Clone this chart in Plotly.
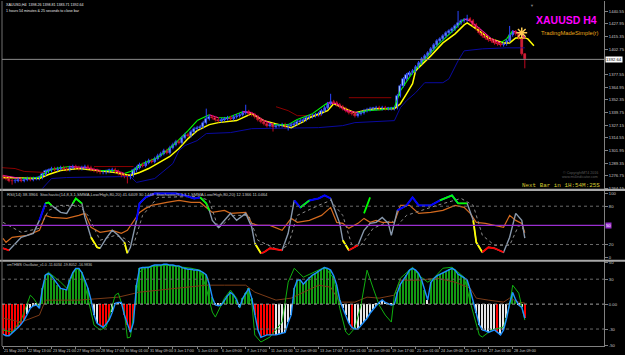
import plotly.graph_objects as go

# ---------------- price data (H4 bars, XAUUSD) ----------------
CLOSE = [
    1275.1, 1274.1, 1272.1, 1271.2, 1272.1, 1273.1, 1272.1, 1273.1, 1274.1, 1273.1,
    1274.1, 1274.1, 1275.1, 1278.1, 1281.1, 1282.1, 1284.0, 1283.0, 1284.0, 1285.0,
    1284.0, 1283.0, 1285.0, 1286.0, 1285.0, 1284.0, 1285.0, 1286.0, 1285.0, 1283.0,
    1282.1, 1281.1, 1280.1, 1280.1, 1281.1, 1282.1, 1283.0, 1281.1, 1279.1, 1277.1,
    1276.1, 1275.1, 1277.1, 1282.1, 1285.0, 1288.0, 1287.0, 1290.0, 1292.0, 1291.0,
    1294.0, 1296.9, 1298.9, 1301.9, 1299.9, 1304.9, 1307.9, 1310.8, 1309.8, 1314.8,
    1317.8, 1316.8, 1320.8, 1323.7, 1324.7, 1325.7, 1329.7, 1333.6, 1335.6, 1334.6,
    1332.7, 1331.7, 1332.7, 1333.6, 1334.6, 1333.6, 1335.6, 1336.6, 1337.6, 1339.6,
    1340.6, 1338.6, 1337.6, 1335.6, 1332.7, 1330.7, 1328.7, 1326.7, 1327.7, 1325.7,
    1326.7, 1326.7, 1327.7, 1325.7, 1326.7, 1327.7, 1328.7, 1330.7, 1331.7, 1332.7,
    1334.6, 1335.6, 1336.6, 1337.6, 1338.6, 1341.6, 1344.6, 1348.5, 1350.5, 1349.5,
    1347.5, 1345.5, 1343.6, 1341.6, 1339.6, 1338.6, 1336.6, 1338.6, 1339.6, 1341.6,
    1342.6, 1343.6, 1343.6, 1344.6, 1343.6, 1344.6, 1343.6, 1343.6, 1343.6, 1344.6,
    1356.5, 1366.4, 1373.3, 1377.3, 1379.3, 1381.3, 1385.2, 1389.2, 1393.2, 1396.1,
    1399.1, 1403.1, 1407.1, 1411.0, 1413.0, 1416.0, 1419.0, 1420.9, 1422.9, 1425.9,
    1428.9, 1430.9, 1431.9, 1432.8, 1430.9, 1426.9, 1422.9, 1419.0, 1416.0, 1414.0,
    1412.0, 1411.0, 1409.0, 1408.0, 1407.1, 1408.0, 1411.0, 1417.0, 1420.0, 1418.0,
    1414.0, 1398.26, 1392.64,
]
FIRST_OPEN = 1276.1
DEFAULT_WICK = 1.8
MIN_BODY = 0.9
HIGH_SPIKES = {67: 1343.6, 80: 1347.5, 108: 1358.4, 150: 1440.8, 153: 1437.0,
               167: 1425.9, 172: 1398.81}
LOW_SPIKES = {3: 1268.0, 41: 1269.2, 89: 1320.8, 94: 1321.8, 172: 1383.71}

# slow MA (yellow)
YEL_X = [0, 12, 15, 19, 25, 32, 37, 42, 45, 48, 51, 55, 58, 61, 64, 68, 71, 77, 82, 86,
         91, 95, 99, 101, 107, 109, 112, 116, 119, 123, 129, 131, 133, 135, 136, 141,
         145, 149, 152, 153, 157, 160, 165, 167, 169, 172, 173, 175]
YEL_P = [1275.1, 1274.1, 1278.1, 1282.1, 1284.0, 1282.1, 1280.1, 1277.1, 1280.1, 1284.0,
         1289.0, 1296.0, 1303.9, 1313.8, 1321.7, 1327.7, 1329.7, 1331.7, 1338.6, 1331.7,
         1327.7, 1324.7, 1330.7, 1334.6, 1341.6, 1348.5, 1344.6, 1339.6, 1341.6, 1343.6,
         1343.6, 1348.5, 1358.4, 1368.4, 1381.3, 1396.1, 1409.0, 1418.0, 1426.9, 1428.9,
         1420.9, 1414.0, 1409.0, 1409.0, 1414.0, 1414.0, 1413.0, 1406.1]

# fast MA (green rising / magenta falling)
FAST_X = [0, 6, 12, 14, 17, 22, 27, 32, 37, 40, 43, 46, 51, 56, 61, 64, 68, 71, 74, 79,
          82, 86, 89, 94, 97, 102, 107, 110, 113, 117, 120, 125, 129, 131, 135, 140, 144,
          149, 152, 154, 158, 161, 164, 166, 168, 171, 172]
FAST_P = [1277.1, 1274.1, 1275.1, 1280.1, 1284.0, 1286.0, 1285.0, 1282.1, 1282.1, 1279.1,
          1282.1, 1289.0, 1294.9, 1306.9, 1321.7, 1331.7, 1337.6, 1334.6, 1334.6, 1340.6,
          1339.6, 1331.7, 1327.7, 1327.7, 1332.7, 1338.6, 1349.5, 1348.5, 1341.6, 1339.6,
          1341.6, 1342.6, 1344.6, 1361.4, 1379.3, 1396.1, 1409.0, 1422.9, 1432.8, 1430.9,
          1420.9, 1413.0, 1409.0, 1413.0, 1420.9, 1418.0, 1413.0]

# upper channel (dark red) and lower channel (navy)
RCH_X = [-1, 4, 7, 14, None, 30, 43, None, 90, 94, 97, 105, None, 114, 128]
RCH_P = [1285.0, 1284.0, 1281.1, 1280.1, None, 1286.0, 1286.0, None, 1345.5, 1341.6,
         1336.6, 1336.6, None, 1354.5, 1354.5]
NAVY_X = [13, 16, 21, 42, 44, 50, 56, 58, 60, 64, 67, 75, 82, 104, 112, 116, 129, 131,
          133, 136, 139, 145, 147, 150, 152, 158, 166, 172]
NAVY_P = [1264.2, 1274.1, 1275.1, 1276.1, 1270.2, 1274.1, 1289.0, 1301.9, 1306.9, 1311.8,
          1318.8, 1319.8, 1323.7, 1324.7, 1326.7, 1329.7, 1331.7, 1344.6, 1351.5, 1359.4,
          1369.4, 1369.4, 1373.3, 1391.2, 1401.1, 1403.1, 1404.1, 1404.1]
SIGNAL_BAR = 171
SIGNAL_PRICE = 1419.0

PRICE_TICKS = [1264.15, 1276.75, 1289.35, 1301.95, 1314.55, 1327.15, 1339.75, 1352.35,
               1364.95, 1377.55, 1402.75, 1415.35, 1427.95, 1440.55]

# ---------------- RSI / Stochastic panel ----------------
RSI_X = [0, 1, 3, 8, 12, 14, 16, 21, 25, 27, 29, 32, 36, 39, 41, 44, 45, 47, 49, 54, 58,
         62, 65, 67, 69, 73, 75, 80, 82, 84, 88, 92, 95, 97, 101, 105, 108, 110, 112, 114,
         117, 119, 121, 123, 125, 129, 131, 134, 137, 141, 145, 149, 152, 154, 156, 159,
         162, 165, 167, 169, 171, 172]
RSI_V = [29.7, 23.4, 31.3, 34.4, 42.2, 65.6, 62.5, 60.9, 65.6, 68.8, 46.9, 39.1, 42.2,
         37.5, 42.2, 62.5, 70.3, 76.6, 81.3, 85.9, 89.1, 85.9, 85.9, 78.1, 70.3, 73.4, 68.8,
         70.3, 53.1, 50.0, 50.0, 42.2, 60.9, 54.7, 57.8, 65.6, 78.1, 54.7, 53.1, 45.3, 53.1,
         60.9, 54.7, 57.8, 54.7, 54.7, 81.3, 81.3, 68.8, 70.3, 73.4, 81.3, 78.1, 68.8, 54.7,
         53.1, 50.0, 46.9, 65.6, 57.8, 53.1, 38.4]

STO_X = [0, 2, 6, 10, 12, 14, 15, 16, 19, 21, 23, 24, 26, 27, 29, 31, 32, 34, 36, 38, 40,
         41, 42, 44, 45, 47, 50, 54, 57, 60, 63, 65, 67, 68, 69, 71, 73, 75, 77, 80, 82,
         83, 85, 86, 88, 92, 94, 96, 98, 101, 104, 106, 108, 109, 111, 112, 114, 117, 119,
         121, 123, 125, 127, 128, 130, 133, 135, 137, 141, 144, 148, 150, 153, 155, 156,
         158, 160, 162, 165, 167, 169, 171, 172]
STO_V = [14.1, 10.9, 31.3, 37.5, 57.8, 84.4, 85.9, 81.3, 70.3, 68.8, 84.4, 92.2, 84.4,
         62.5, 31.3, 15.6, 14.1, 29.7, 42.2, 34.4, 23.4, 6.3, 15.6, 57.8, 84.4, 93.8, 100.0,
         100.0, 100.0, 96.9, 92.2, 93.8, 84.4, 73.4, 57.8, 46.9, 57.8, 68.8, 57.8, 68.8,
         46.9, 21.9, 6.3, 7.8, 14.1, 10.9, 37.5, 89.1, 78.1, 89.1, 92.2, 96.9, 92.2, 78.1,
         53.1, 26.6, 10.9, 18.8, 42.2, 53.1, 54.7, 62.5, 53.1, 34.4, 73.4, 81.3, 93.8, 81.3,
         81.3, 89.1, 96.9, 84.4, 84.4, 57.8, 23.4, 7.8, 15.6, 14.1, 7.8, 31.3, 68.8, 57.8,
         30.1]

SIG_X = [0, 6, 12, 15, 19, 25, 28, 32, 37, 40, 43, 46, 51, 64, 68, 71, 76, 81, 84, 91,
         94, 97, 104, 108, 112, 115, 118, 122, 128, 130, 133, 143, 151, 155, 158, 162,
         167, 170, 172]
SIG_V = [54.7, 39.1, 45.3, 73.4, 81.3, 81.3, 65.6, 26.6, 34.4, 29.7, 18.8, 65.6, 93.8,
         95.3, 89.1, 45.3, 65.6, 65.6, 26.6, 10.9, 18.8, 65.6, 81.3, 89.1, 65.6, 18.8,
         18.8, 45.3, 57.8, 50.0, 65.6, 81.3, 92.2, 81.3, 34.4, 18.8, 18.8, 50.0, 41.6]

GREEN_SPIKE_X = [119, 121]
GREEN_SPIKE_V = [68.8, 93.8]

BLUE_RANGES = [(12, 14), (44, 65), (96, 108), (130, 150)]
GREEN_RANGES = [(14, 16), (23, 26), (65, 68), (98, 101), (144, 153)]
YELLOW_RANGES = [(29, 32), (40, 41), (83, 85), (112, 114), (155, 158)]
RED_RANGES = [(0, 2), (85, 92), (114, 117), (158, 165)]

RSI_TICKS = [0, 20, 80, 100]

# ---------------- oscillator panel ----------------
HIST = [
    -36, -38, -38, -35, -31, -28, -24, -19, -12, -5,
    -2, -1, -5, 19, 35, 37, 34, 29, 23, 19,
    18, 17, 29, 38, 43, 43, 38, 29, 19, 5,
    -13, -23, -26, -28, -24, -19, -10, 1, 2, 2,
    -13, -25, -34, -22, 23, 43, 44, 44, 44, 46,
    47, 47, 47, 48, 48, 47, 47, 46, 46, 44,
    43, 42, 42, 41, 41, 40, 38, 35, 24, 8,
    -1, -2, -1, 5, 10, 14, 11, 5, -4, 7,
    13, 19, 7, -13, -31, -40, -38, -37, -37, -37,
    -37, -36, -35, -34, -22, -13, 19, 29, 29, 24,
    28, 32, 35, 37, 40, 42, 44, 43, 41, 34,
    23, 5, -5, -13, -23, -28, -30, -30, -26, -22,
    -17, -11, -6, -2, 2, 5, 2, 0, -1, 0,
    14, 24, 29, 35, 41, 43, 41, 37, 29, 17,
    5, 26, 31, 34, 36, 37, 40, 42, 43, 41,
    36, 34, 32, 29, 17, 2, -11, -25, -31, -32,
    -34, -32, -31, -34, -37, -31, -17, 1, 14, 5,
    -1, -4, -17,
]
RED_BARS = [0, 1, 2, 3, 4, 5, 6, 7, 32, 33, 34, 35, 40, 41, 42, 43,
            83, 84, 85, 86, 87, 88, 89, 115, 163, 172]
WHITE_POS_BARS = [37, 38, 39, 124, 125, 126, 129, 140]

OSIG_X = [0, 3, 6, 9, 10, 12, 14, 15, 19, 21, 24, 26, 28, 30, 32, 34, 37, 38, 40, 41, 42,
          45, 47, 54, 62, 65, 67, 69, 70, 73, 75, 77, 78, 80, 82, 83, 85, 88, 92, 94, 96,
          99, 106, 109, 111, 113, 114, 116, 118, 120, 122, 124, 126, 128, 129, 131, 135,
          137, 140, 142, 145, 148, 152, 154, 157, 158, 161, 165, 167, 168, 170, 172]
OSIG_V = [-31.2, -33.6, -19.2, 10.8, 7.2, -3.6, 34.8, 38.4, 26.4, 19.2, 43.2, 38.4, 7.2,
          -25.2, -31.2, -27.6, 10.8, 13.2, -9.6, -40.8, -39.6, 38.4, 44.4, 46.8, 43.2, 40.8,
          19.2, -9.6, -15.6, 7.2, 16.8, 7.2, -4.8, 14.4, 2.4, -37.2, -45.6, -39.6, -21.6,
          26.4, 43.2, 32.4, 44.4, 31.2, -4.8, -33.6, -37.2, -28.8, -1.2, 40.8, 19.2, -1.2,
          -13.2, -21.6, 10.8, 31.2, 44.4, 34.8, 26.4, 31.2, 43.2, 44.4, 32.4, 2.4, -37.2,
          -39.6, -31.2, -27.6, -1.2, 22.8, 13.2, -19.2]

BROWN_X = [0, 6, 12, 14, 25, 38, 45, 51, 67, 73, 80, 83, 90, 95, 104, 108, 111, 116, 120,
           124, 129, 131, 137, 143, 149, 154, 156, 160, 165, 167, 170, 172]
BROWN_V = [-16.8, -21.6, -13.2, 4.8, 4.8, 8.4, 14.4, 16.8, 22.8, 22.8, 22.8, 14.4, 4.8,
           7.2, 22.8, 20.4, 2.4, 2.4, 8.4, 7.2, 10.8, 28.8, 28.8, 31.2, 26.4, 19.2, 7.2,
           4.8, 2.4, 7.2, 2.4, 1.2]

OSC_TICKS = [-50, -30, 0, 30, 50]
OSC_TICKTEXT = ["-50", "-30", "0.00", "30", "50"]

DATE_LABELS = ["21 May 2019", "22 May 13:00", "23 May 21:00", "27 May 09:00", "28 May 17:00",
               "30 May 01:00", "31 May 09:00", "3 Jun 17:00", "5 Jun 01:00", "6 Jun 09:00",
               "7 Jun 17:00", "11 Jun 01:00", "12 Jun 09:00", "13 Jun 17:00", "17 Jun 01:00",
               "18 Jun 09:00", "19 Jun 17:00", "21 Jun 01:00", "24 Jun 09:00", "25 Jun 17:00",
               "27 Jun 01:00", "28 Jun 09:00"]
DATE_STEP = 8

# ---------------- build ----------------
N = len(CLOSE)
IDX = list(range(N))
OPEN = [FIRST_OPEN] + CLOSE[:-1]
HIGH = [max(o, c) + DEFAULT_WICK for o, c in zip(OPEN, CLOSE)]
LOW = [min(o, c) - DEFAULT_WICK for o, c in zip(OPEN, CLOSE)]
for k, v in HIGH_SPIKES.items():
    HIGH[k] = v
for k, v in LOW_SPIKES.items():
    LOW[k] = v

FONT = "Liberation Sans"
TXT = "#c8c8c8"
fig = go.Figure()


def line(x, y, color, width, yaxis, dash="solid"):
    fig.add_trace(go.Scatter(x=x, y=y, mode="lines", yaxis=yaxis, xaxis="x",
                             line=dict(color=color, width=width, dash=dash),
                             hoverinfo="skip", showlegend=False, connectgaps=False))


# price panel
line(NAVY_X, NAVY_P, "#0a0aa0", 1, "y")
line(RCH_X, RCH_P, "#8b0000", 1, "y")
line(YEL_X, YEL_P, "#ffff00", 1.5, "y")

# fast line coloured by direction
seg = {"#00ff00": ([], []), "#ff1cae": ([], [])}
for k in range(1, len(FAST_X)):
    col = "#00ff00" if FAST_P[k] >= FAST_P[k - 1] else "#ff1cae"
    sx, sy = seg[col]
    sx += [FAST_X[k - 1], FAST_X[k], None]
    sy += [FAST_P[k - 1], FAST_P[k], None]
for col, (sx, sy) in seg.items():
    line(sx, sy, col, 1.1, "y")

# candles: wicks + bodies
for up, wick_col, fill, edge in ((True, "#2a45ff", "#b4dcff", "#2a45ff"),
                                 (False, "#c00820", "#ff5c78", "#d0102a")):
    sel = [k for k in IDX if (CLOSE[k] >= OPEN[k]) == up]
    wx, wy = [], []
    for k in sel:
        wx += [k, k, None]
        wy += [LOW[k], HIGH[k], None]
    line(wx, wy, wick_col, 1, "y")
    base = [min(OPEN[k], CLOSE[k]) for k in sel]
    hgt = [max(abs(CLOSE[k] - OPEN[k]), MIN_BODY) for k in sel]
    fig.add_trace(go.Bar(x=sel, y=hgt, base=base, width=0.7, xaxis="x", yaxis="y",
                         marker=dict(color=fill, line=dict(color=edge, width=0.6)),
                         hoverinfo="skip", showlegend=False))

fig.add_trace(go.Scatter(x=[SIGNAL_BAR], y=[SIGNAL_PRICE], mode="markers", yaxis="y",
                         marker=dict(symbol="asterisk-open", size=9,
                                     line=dict(color="#ff2020", width=1.5)),
                         hoverinfo="skip", showlegend=False))

# RSI / stochastic panel
line(RSI_X, RSI_V, "#d2691e", 1.2, "y2")
line(SIG_X, SIG_V, "#8a8a8a", 1, "y2", dash="dot")
line(STO_X, STO_V, "#8898ac", 1.4, "y2")


def overlay(ranges, color, width):
    ox, oy = [], []
    for a, b in ranges:
        for xx, vv in zip(STO_X, STO_V):
            if a <= xx <= b:
                ox.append(xx)
                oy.append(vv)
        ox.append(None)
        oy.append(None)
    line(ox, oy, color, width, "y2")


overlay(BLUE_RANGES, "#0000ff", 2)
overlay(GREEN_RANGES, "#00ff00", 1.8)
overlay(YELLOW_RANGES, "#ffff00", 1.8)
overlay(RED_RANGES, "#ff0000", 1.8)
line(GREEN_SPIKE_X, GREEN_SPIKE_V, "#00ff00", 1.8, "y2")

# oscillator panel
red_set = set(RED_BARS)
white_set = set(WHITE_POS_BARS)
bar_cols = []
for k, v in enumerate(HIST):
    if k in red_set:
        bar_cols.append("#ff0000")
    elif v > 0 and k not in white_set:
        bar_cols.append("#139a13")
    else:
        bar_cols.append("#e6e6e6")
fig.add_trace(go.Bar(x=IDX, y=HIST, width=0.5, marker=dict(color=bar_cols, line=dict(width=0)),
                     xaxis="x", yaxis="y3", hoverinfo="skip", showlegend=False))
line(BROWN_X, BROWN_V, "#7a3a16", 1, "y3")
line(OSIG_X, OSIG_V, "#10b010", 1, "y3")
line(IDX, HIST, "#1e90ff", 1.4, "y3")

# ---------------- layout ----------------
PLOT_H = 346.0


def py(px):
    return (PLOT_H - px) / PLOT_H


axis_common = dict(side="right", showgrid=False, zeroline=False, showline=True,
                   linecolor="#808080", linewidth=1, ticks="outside", ticklen=3,
                   tickcolor="#808080", tickfont=dict(family=FONT, size=4.2, color=TXT),
                   anchor="x", fixedrange=True)

shapes = []
for ypx in (189.5, 260.5):
    shapes.append(dict(type="line", xref="paper", yref="paper", x0=-0.01, x1=1.04,
                       y0=py(ypx), y1=py(ypx), line=dict(color="#a8a8a8", width=2.2)))
shapes.append(dict(type="line", xref="paper", yref="paper", x0=0, x1=0, y0=0, y1=1,
                   line=dict(color="#707070", width=1)))
shapes.append(dict(type="line", xref="paper", yref="y", x0=0, x1=1, y0=CLOSE[-1],
                   y1=CLOSE[-1], line=dict(color="#8c8c8c", width=1)))
for lv in (80, 20):
    shapes.append(dict(type="line", xref="paper", yref="y2", x0=0, x1=1, y0=lv, y1=lv,
                       line=dict(color="#6a6a6a", width=1, dash="dot")))
shapes.append(dict(type="line", xref="paper", yref="y2", x0=0, x1=1, y0=50, y1=50,
                   line=dict(color="#9a2fd0", width=1.2)))
for lv in (30, -30):
    shapes.append(dict(type="line", xref="paper", yref="y3", x0=0, x1=1, y0=lv, y1=lv,
                       line=dict(color="#6a6a6a", width=1, dash="dot")))
shapes.append(dict(type="line", xref="paper", yref="y3", x0=0, x1=1, y0=0, y1=0,
                   line=dict(color="#a0a0a0", width=1, dash="dot")))

ann = []
for k, lab in enumerate(DATE_LABELS):
    ann.append(dict(x=k * DATE_STEP, y=0, xref="x", yref="paper", text=lab, showarrow=False,
                    xanchor="left", yanchor="top", yshift=-1, xshift=-1,
                    font=dict(family=FONT, size=3.8, color=TXT)))
ann += [
    dict(x=0.004, y=py(4), xref="paper", yref="paper", showarrow=False, xanchor="left",
         yanchor="middle",
         text=f"XAUUSD,H4  {OPEN[-1]:.2f} {HIGH[-1]:.2f} {LOW[-1]:.2f} {CLOSE[-1]:.2f}",
         font=dict(family=FONT, size=3.6, color="#e8e8e8")),
    dict(x=0.004, y=py(10), xref="paper", yref="paper", showarrow=False, xanchor="left",
         yanchor="middle", text="1 hours 54 minutes & 25 seconds to close bar",
         font=dict(family=FONT, size=3.6, color="#e8e8e8")),
    dict(x=0.992, y=py(19), xref="paper", yref="paper", showarrow=False, xanchor="right",
         yanchor="middle", text="<b>XAUUSD H4</b>",
         font=dict(family=FONT, size=10.5, color="#ff00ff")),
    dict(x=0.995, y=py(32), xref="paper", yref="paper", showarrow=False, xanchor="right",
         yanchor="middle", text="TradingMadeSimple(r)",
         font=dict(family=FONT, size=5.8, color="#e8a81a")),
    dict(x=0.993, y=py(172), xref="paper", yref="paper", showarrow=False, xanchor="right",
         yanchor="middle", text="© CopyrightMT4 2016",
         font=dict(family=FONT, size=3.6, color="#5a5a5a")),
    dict(x=0.993, y=py(177), xref="paper", yref="paper", showarrow=False, xanchor="right",
         yanchor="middle", text="www.mt4indicator.com",
         font=dict(family=FONT, size=3.6, color="#5a5a5a")),
    dict(x=0.997, y=py(185), xref="paper", yref="paper", showarrow=False, xanchor="right",
         yanchor="middle", text="Next Bar in 1H:54M:25S",
         font=dict(family="Liberation Mono", size=5.9, color="#d8cc30")),
    dict(x=0.005, y=py(194), xref="paper", yref="paper", showarrow=False, xanchor="left",
         yanchor="middle",
         text="RSI(14) 38.3966  Stochastic(14,8,3,1,SMMA,Low/High,80,20) 41.6409 30.1448  "
              "Stochastic(5,3,3,1,SMMA,Low/High,80,20) 12.1366 11.0464",
         font=dict(family=FONT, size=4.2, color=TXT)),
    dict(x=0.005, y=py(265), xref="paper", yref="paper", showarrow=False, xanchor="left",
         yanchor="middle", text="xmTHMS Oscillator_v1.0 -11.6034 -19.8052 -16.9836",
         font=dict(family=FONT, size=3.6, color=TXT)),
    dict(x=1, y=CLOSE[-1], xref="paper", yref="y", showarrow=False, xanchor="left",
         yanchor="middle", xshift=1, text=f"{CLOSE[-1]:.2f}", bgcolor="#ffffff",
         borderpad=0, font=dict(family=FONT, size=4.2, color="#000000")),
    dict(x=1, y=50, xref="paper", yref="y2", showarrow=False, xanchor="left",
         yanchor="middle", xshift=1, text="50", bgcolor="#9a2fd0", borderpad=0,
         font=dict(family=FONT, size=4.2, color="#ffffff")),
    dict(x=0.88, y=1, xref="paper", yref="paper", showarrow=False, xanchor="center",
         yanchor="top", text="▼", font=dict(family=FONT, size=4, color="#808080")),
]

fig.update_layout(
    width=625, height=355, autosize=False,
    margin=dict(l=2, r=16, t=0, b=9, pad=0),
    paper_bgcolor="#000000", plot_bgcolor="#000000",
    showlegend=False, bargap=0, barmode="overlay",
    xaxis=dict(range=[-0.33, 198.1], showgrid=False, zeroline=False, showline=True,
               linecolor="#808080", linewidth=1, anchor="y3", ticks="outside", ticklen=2,
               tickcolor="#808080", tickvals=[k * DATE_STEP for k in range(len(DATE_LABELS))],
               ticktext=["" for _ in DATE_LABELS], fixedrange=True),
    yaxis=dict(domain=[py(189), 1], range=[1263.2, 1450.7], tickvals=PRICE_TICKS,
               ticktext=[f"{t:.2f}" for t in PRICE_TICKS], **axis_common),
    yaxis2=dict(domain=[py(260), py(190)], range=[-4.69, 104.7], tickvals=RSI_TICKS,
                ticktext=[str(t) for t in RSI_TICKS], **axis_common),
    yaxis3=dict(domain=[0, py(261)], range=[-50.4, 51.6], tickvals=OSC_TICKS,
                ticktext=OSC_TICKTEXT, **axis_common),
    shapes=shapes, annotations=ann,
)

fig.write_html("out.html")
